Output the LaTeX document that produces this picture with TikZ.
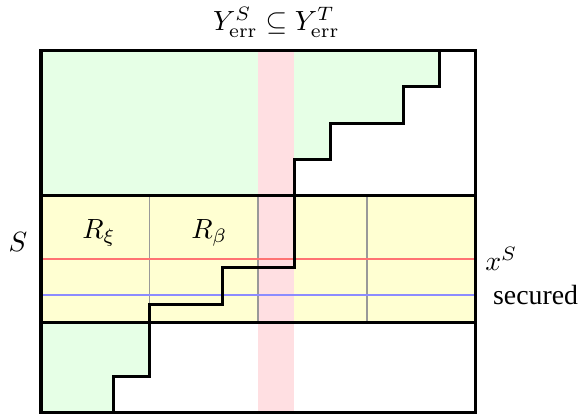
\documentclass[tikz,border=0pt]{standalone}
\usepackage[no-math]{fontspec}
\setmainfont{Liberation Serif}
\usepackage{xcolor}
\definecolor{errpink}{HTML}{FFDFE2}
\definecolor{okgreen}{HTML}{E6FFE6}
\definecolor{bandyellow}{HTML}{FFFFD2}

\begin{document}
\begin{tikzpicture}[x=0.458cm, y=0.458cm,
    frame/.style={draw=black, line width=1.1pt},
    gridline/.style={draw=black!40, line width=0.6pt},
    stairline/.style={draw=black, line width=1.1pt, line join=miter}]
  \useasboundingbox (-1.133,-0.04) rectangle (14.86,11.40);
  % green regions left of the staircase
  \fill[okgreen] (0,6) -- (0,10) -- (11,10) -- (11,9) -- (10,9) -- (10,8)
    -- (8,8) -- (8,7) -- (7,7) -- (7,6) -- cycle;
  \fill[okgreen] (0,0) -- (0,2.5) -- (3,2.5) -- (3,1) -- (2,1) -- (2,0) -- cycle;
  % band S and column Y_err
  \fill[bandyellow] (0,2.5) rectangle (12,6);
  \fill[errpink] (6,0) rectangle (7,10);
  \foreach \x in {3,6,9}
    \draw[gridline] (\x,2.5) -- (\x,6);
  \draw[red!55, line width=0.8pt] (0,4.25) coordinate (xl) -- (12,4.25) coordinate (xr);
  \draw[blue!45, line width=0.8pt] (0,3.25) coordinate (sl) -- (12,3.25) coordinate (sr);
  % staircase
  \draw[stairline] (11,10) -- (11,9) -- (10,9) -- (10,8) -- (8,8) -- (8,7)
    -- (7,7) -- (7,4) -- (5,4) -- (5,3) -- (3,3) -- (3,1) -- (2,1) -- (2,0);
  \draw[frame] (0,0) rectangle (12,10);
  \draw[frame] (0,6) -- (12,6);
  \draw[frame] (0,2.5) -- (12,2.5);
  % labels
  \node[anchor=base] (title) at (6.5,10.56) {$Y^{S}_{\mathrm{err}} \subseteq Y^{T}_{\mathrm{err}}$};
  \node[anchor=base] (slabel) at (-0.64,4.46) {$S$};
  \node[anchor=base] (rxi) at (1.6,4.82) {$R_\xi$};
  \node[anchor=base] (rbeta) at (4.65,4.82) {$R_\beta$};
  \node[anchor=west] (xs) at (xr) {$x^S$};
  \node[anchor=west] (secured) at ([xshift=0.1cm]sr) {secured};
\end{tikzpicture}
\end{document}
